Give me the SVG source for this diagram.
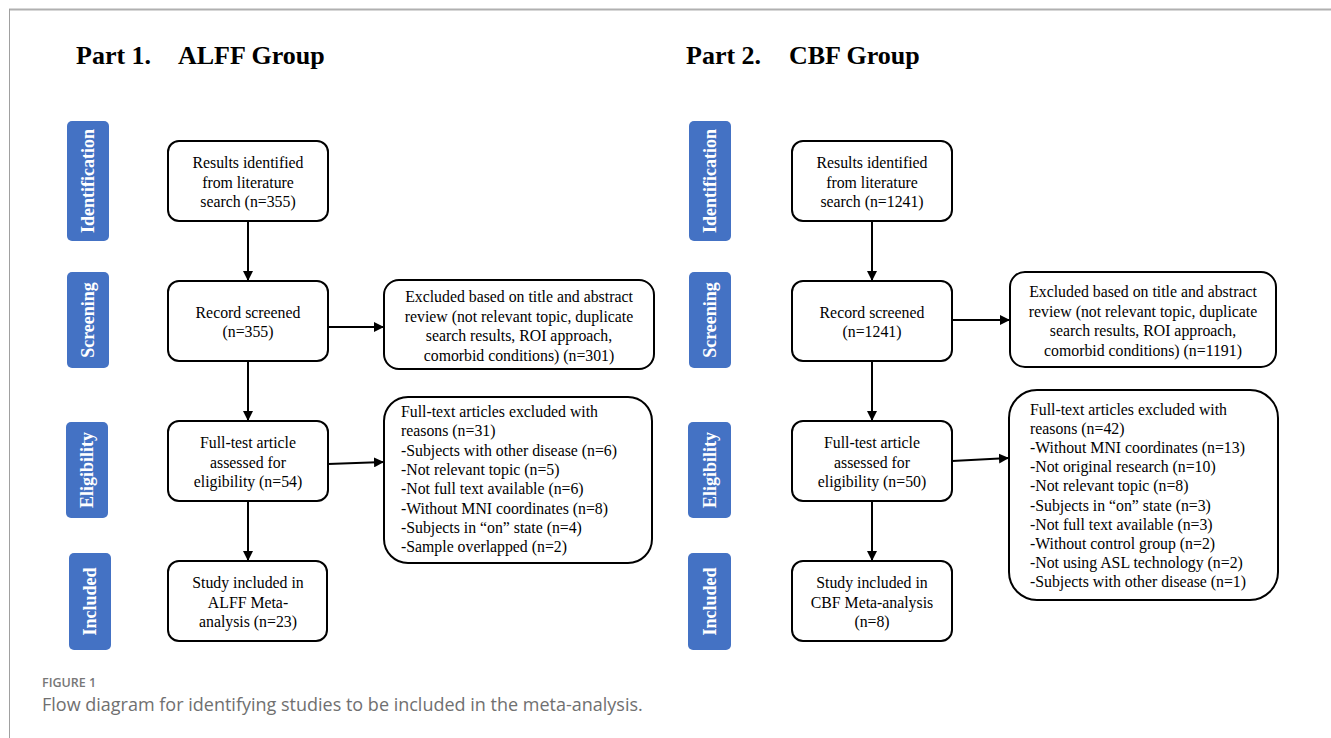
<svg xmlns="http://www.w3.org/2000/svg" width="1331" height="738" viewBox="0 0 1331 738">
<style>
.box{fill:#fff;stroke:#000;stroke-width:2}
.lbl{fill:#4472C4}
.lt{font-family:"Liberation Serif",serif;font-weight:bold;font-size:18px;fill:#fff;text-anchor:middle}
.t{font-family:"Liberation Serif",serif;font-size:15.8px;fill:#000}
.c{text-anchor:middle}
.title{font-family:"Liberation Serif",serif;font-weight:bold;font-size:26px;fill:#000}
.cn line{stroke:#000;stroke-width:2;marker-end:url(#ah)}
.cap1{font-family:"Open Sans",sans-serif;font-size:12.5px;font-weight:600;fill:#777}
.cap2{font-family:"Open Sans",sans-serif;font-size:18px;fill:#707070}
</style>
<defs>
<marker id="ah" viewBox="0 0 10 10" refX="10" refY="5" markerWidth="5" markerHeight="5" orient="auto" markerUnits="strokeWidth">
<path d="M0,0 L10,5 L0,10 z" fill="#000"/>
</marker>
</defs>
<rect width="1331" height="738" fill="#fff"/>
<line x1="9" y1="9.5" x2="1331" y2="9.5" stroke="#b0b0b0" stroke-width="2"/>
<line x1="9.5" y1="9" x2="9.5" y2="738" stroke="#a0a0a0" stroke-width="1"/>

<g id="titles">
<text class="title" x="76" y="64">Part 1.</text>
<text class="title" x="178" y="64">ALFF Group</text>
<text class="title" x="686" y="64">Part 2.</text>
<text class="title" x="789" y="64">CBF Group</text>
</g>

<g id="stage-labels-left">
<rect class="lbl" x="67" y="121" width="42" height="120" rx="5"/>
<text class="lt" transform="translate(94,181) rotate(-90)">Identification</text>
<rect class="lbl" x="67" y="272" width="42" height="96" rx="5"/>
<text class="lt" transform="translate(94,320) rotate(-90)">Screening</text>
<rect class="lbl" x="66" y="422" width="42" height="96" rx="5"/>
<text class="lt" transform="translate(93,470) rotate(-90)">Eligibility</text>
<rect class="lbl" x="69" y="553" width="42" height="97" rx="5"/>
<text class="lt" transform="translate(96,601.5) rotate(-90)">Included</text>
</g>
<g id="stage-labels-right">
<rect class="lbl" x="689" y="121" width="42" height="120" rx="5"/>
<text class="lt" transform="translate(716,181) rotate(-90)">Identification</text>
<rect class="lbl" x="689" y="272" width="42" height="96" rx="5"/>
<text class="lt" transform="translate(716,320) rotate(-90)">Screening</text>
<rect class="lbl" x="688" y="422" width="43" height="96" rx="5"/>
<text class="lt" transform="translate(715.5,470) rotate(-90)">Eligibility</text>
<rect class="lbl" x="688" y="553" width="43" height="97" rx="5"/>
<text class="lt" transform="translate(715.5,601.5) rotate(-90)">Included</text>
</g>

<g id="connectors" class="cn">
<line x1="248" y1="221" x2="248" y2="281"/>
<line x1="328" y1="327" x2="384" y2="327"/>
<line x1="248" y1="361" x2="248" y2="421"/>
<line x1="328" y1="464" x2="384" y2="462"/>
<line x1="248" y1="501" x2="248" y2="561"/>
<line x1="872" y1="221" x2="872" y2="281"/>
<line x1="952" y1="320" x2="1010" y2="320"/>
<line x1="872" y1="361" x2="872" y2="421"/>
<line x1="952" y1="461" x2="1009" y2="458"/>
<line x1="872" y1="501" x2="872" y2="561"/>
</g>

<g id="a-identified">
<rect class="box" x="168" y="141" width="160" height="80" rx="11"/>
<text class="t c" x="248" y="168">Results identified</text>
<text class="t c" x="248" y="187.5">from literature</text>
<text class="t c" x="248" y="207">search (n=355)</text>
</g>
<g id="a-screened">
<rect class="box" x="168" y="281" width="160" height="80" rx="11"/>
<text class="t c" x="248" y="318">Record screened</text>
<text class="t c" x="248" y="337">(n=355)</text>
</g>
<g id="a-excluded">
<rect class="box" x="384" y="280" width="270" height="89" rx="15"/>
<text class="t c" x="519" y="302">Excluded based on title and abstract</text>
<text class="t c" x="519" y="321.5">review (not relevant topic, duplicate</text>
<text class="t c" x="519" y="341">search results, ROI approach,</text>
<text class="t c" x="519" y="360.5">comorbid conditions) (n=301)</text>
</g>
<g id="a-fulltext">
<rect class="box" x="168" y="421" width="160" height="80" rx="11"/>
<text class="t c" x="248" y="448">Full-test article</text>
<text class="t c" x="248" y="467.5">assessed for</text>
<text class="t c" x="248" y="487">eligibility (n=54)</text>
</g>
<g id="a-ft-excluded">
<rect class="box" x="384" y="397" width="268" height="166" rx="24"/>
<text class="t" x="401" y="417">Full-text articles excluded with</text>
<text class="t" x="401" y="436.3">reasons (n=31)</text>
<text class="t" x="401" y="455.6">-Subjects with other disease (n=6)</text>
<text class="t" x="401" y="474.9">-Not relevant topic (n=5)</text>
<text class="t" x="401" y="494.2">-Not full text available (n=6)</text>
<text class="t" x="401" y="513.5">-Without MNI coordinates (n=8)</text>
<text class="t" x="401" y="532.8">-Subjects in “on” state (n=4)</text>
<text class="t" x="401" y="552.1">-Sample overlapped (n=2)</text>
</g>
<g id="a-included">
<rect class="box" x="168" y="561" width="159" height="80" rx="11"/>
<text class="t c" x="248" y="588">Study included in</text>
<text class="t c" x="248" y="607.5">ALFF Meta-</text>
<text class="t c" x="248" y="627">analysis (n=23)</text>
</g>

<g id="b-identified">
<rect class="box" x="792" y="141" width="160" height="80" rx="11"/>
<text class="t c" x="872" y="168">Results identified</text>
<text class="t c" x="872" y="187.5">from literature</text>
<text class="t c" x="872" y="207">search (n=1241)</text>
</g>
<g id="b-screened">
<rect class="box" x="792" y="281" width="160" height="80" rx="11"/>
<text class="t c" x="872" y="318">Record screened</text>
<text class="t c" x="872" y="337">(n=1241)</text>
</g>
<g id="b-excluded">
<rect class="box" x="1010" y="272" width="266" height="95" rx="15"/>
<text class="t c" x="1143" y="297">Excluded based on title and abstract</text>
<text class="t c" x="1143" y="316.5">review (not relevant topic, duplicate</text>
<text class="t c" x="1143" y="336">search results, ROI approach,</text>
<text class="t c" x="1143" y="355.5">comorbid conditions) (n=1191)</text>
</g>
<g id="b-fulltext">
<rect class="box" x="792" y="421" width="160" height="80" rx="11"/>
<text class="t c" x="872" y="448">Full-test article</text>
<text class="t c" x="872" y="467.5">assessed for</text>
<text class="t c" x="872" y="487">eligibility (n=50)</text>
</g>
<g id="b-ft-excluded">
<rect class="box" x="1009" y="390" width="269" height="210" rx="28"/>
<text class="t" x="1030" y="415">Full-text articles excluded with</text>
<text class="t" x="1030" y="434.1">reasons (n=42)</text>
<text class="t" x="1030" y="453.2">-Without MNI coordinates (n=13)</text>
<text class="t" x="1030" y="472.3">-Not original research (n=10)</text>
<text class="t" x="1030" y="491.4">-Not relevant topic (n=8)</text>
<text class="t" x="1030" y="510.5">-Subjects in “on” state (n=3)</text>
<text class="t" x="1030" y="529.6">-Not full text available (n=3)</text>
<text class="t" x="1030" y="548.7">-Without control group (n=2)</text>
<text class="t" x="1030" y="567.8">-Not using ASL technology (n=2)</text>
<text class="t" x="1030" y="586.9">-Subjects with other disease (n=1)</text>
</g>
<g id="b-included">
<rect class="box" x="792" y="561" width="160" height="80" rx="11"/>
<text class="t c" x="872" y="588">Study included in</text>
<text class="t c" x="872" y="607.5">CBF Meta-analysis</text>
<text class="t c" x="872" y="627">(n=8)</text>
</g>

<g id="caption">
<text class="cap1" x="42" y="687">FIGURE 1</text>
<text class="cap2" x="42" y="711">Flow diagram for identifying studies to be included in the meta-analysis.</text>
</g>
</svg>
